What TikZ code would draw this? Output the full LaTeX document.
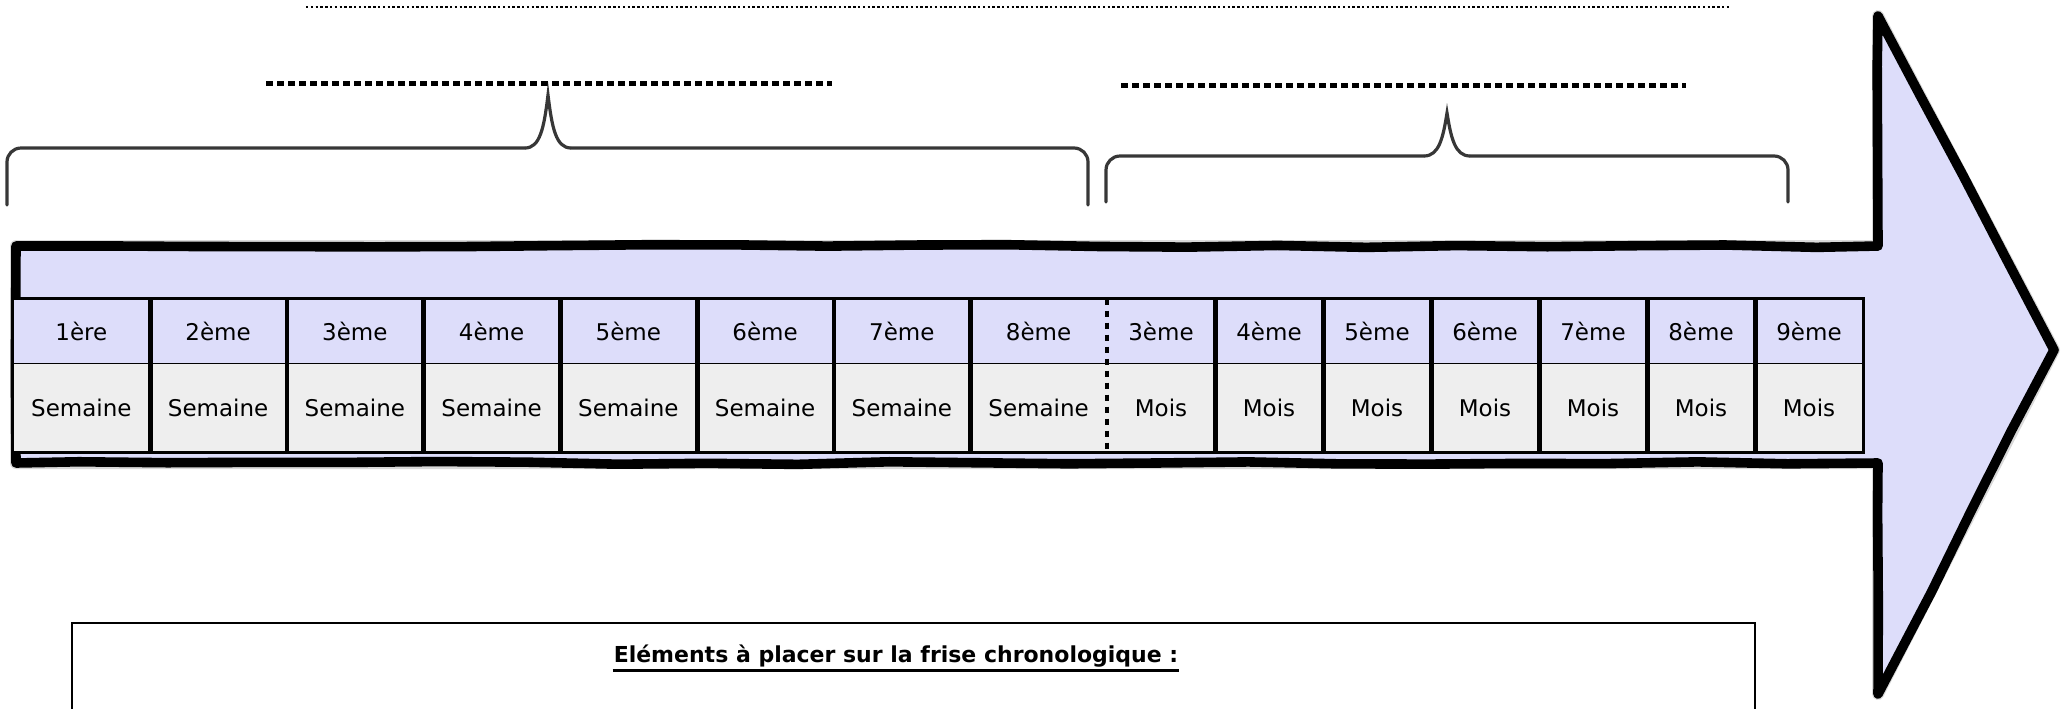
\documentclass[tikz,border=0pt]{standalone}
\usepackage{fontspec}
\setmainfont{DejaVu Sans}
\usetikzlibrary{calc,decorations.pathmorphing}

\definecolor{lavande}{RGB}{221,221,250}
\definecolor{grisclair}{RGB}{238,238,238}
\definecolor{accolade}{RGB}{55,55,55}

\begin{document}
\begin{tikzpicture}[x=0.5pt,y=-0.5pt,
	hcell/.style={fill=lavande, minimum height=32pt, inner sep=0pt, font=\fontsize{11.5}{13}\selectfont},
	bcell/.style={fill=grisclair, minimum height=44.5pt, inner sep=0pt, font=\fontsize{11.5}{13}\selectfont},
	brace/.style={draw=accolade, line width=1.6pt, line cap=round, rounded corners=7pt},
	pointilles/.style={line width=2.5pt, dash pattern=on 3.5pt off 2pt}]
	\useasboundingbox (0,0) rectangle (2071,708);
	\pgfmathsetseed{11}
	
	% arrow outline
	\coordinate (A1) at (16,246);
	\coordinate (A2) at (1878,246);
	\coordinate (A3) at (1878,16);
	\coordinate (A4) at (2054,350);
	\coordinate (A5) at (1878,694);
	\coordinate (A6) at (1878,463);
	\coordinate (A7) at (16,463);
	
	% shadow of the arrow
	\draw[gray, opacity=0.3, line width=6pt, line join=round, shift={(3,5)}]
		(A1) -- (A2) -- (A3) -- (A4) -- (A5) -- (A6) -- (A7) -- cycle;
	% arrow
	\draw[fill=lavande, line width=4.8pt, line join=round, line cap=round,
		decorate, decoration={random steps, segment length=45pt, amplitude=0.8pt}]
		(A1) -- (A2) -- (A3) -- (A4) -- (A5) -- (A6) -- (A7) -- cycle;
	
	% weeks
	\def\xa{13} % left of the table
	\def\ws{136.75} % week cell
	\def\ms{108} % month cell
	\foreach \i/\lab in {1/1ère,2/2ème,3/3ème,4/4ème,5/5ème,6/6ème,7/7ème,8/8ème}{
		\node[hcell, minimum width=68.375pt] (h\i) at (\xa+\i*\ws-\ws/2,331) {\lab};
		\node[bcell, minimum width=68.375pt] (b\i) at (\xa+\i*\ws-\ws/2,407.5) {Semaine};
	}
	% months
	\foreach \j [count=\k from 9] in {3,...,9}{
		\node[hcell, minimum width=54pt] (h\k) at (\xa+8*\ws+\k*\ms-8.5*\ms,331) {\j ème};
		\node[bcell, minimum width=54pt] (b\k) at (\xa+8*\ws+\k*\ms-8.5*\ms,407.5) {Mois};
	}
	
	% table lines
	\draw[line width=1.8pt] (h1.north west) rectangle (b15.south east);
	\draw[line width=0.9pt] (h1.south west) -- (h15.south east);
	\foreach \i in {1,...,7,9,10,...,14}
		\draw[line width=2.4pt] (h\i.north east) -- (b\i.south east);
	\draw[pointilles, line width=2pt, dash pattern=on 3pt off 3pt] (h8.north east) -- (b8.south east);
	
	% dotted lines to fill in
	\coordinate (T1) at (306,7);
	\coordinate (T2) at (1729,7);
	\draw[line width=1pt, dash pattern=on 1.2pt off 1.2pt] (T1) -- (T2);
	\coordinate (G1) at (266,83);
	\coordinate (G2) at (832,83);
	\draw[pointilles] (G1) -- (G2);
	\coordinate (D1) at (1121,85);
	\coordinate (D2) at (1686,85);
	\draw[pointilles] (D1) -- (D2);
	
	% left brace
	\coordinate (LB) at (7,205);
	\coordinate (LT) at (548,95);
	\coordinate (LE) at (1088,205);
	\draw[brace] (LB) -- (7,148) -- (525,148);
	\draw[accolade, line width=1.6pt, line join=miter] (525,148) .. controls (540,148) and (544,128) .. (LT)
		.. controls (552,128) and (556,148) .. (571,148);
	\draw[brace] (571,148) -- (1088,148) -- (LE);
	
	% right brace
	\coordinate (RB) at (1106,202);
	\coordinate (RT) at (1447,113);
	\coordinate (RE) at (1788,202);
	\draw[brace] (RB) -- (1106,156) -- (1424,156);
	\draw[accolade, line width=1.6pt, line join=miter] (1424,156) .. controls (1439,156) and (1443,138) .. (RT)
		.. controls (1451,138) and (1455,156) .. (1470,156);
	\draw[brace] (1470,156) -- (1788,156) -- (RE);
	
	% box at the bottom
	\draw[line width=1.1pt] (72,623) rectangle (1755,740);
	\node[font=\fontsize{11}{13}\selectfont\bfseries] (titre) at (896,656)
		{Eléments à placer sur la frise chronologique :};
	\draw[line width=1.3pt] ([yshift=-1pt]titre.base west) ++(3pt,-3pt) -- ([xshift=-3pt,yshift=-4pt]titre.base east);
\end{tikzpicture}
\end{document}
